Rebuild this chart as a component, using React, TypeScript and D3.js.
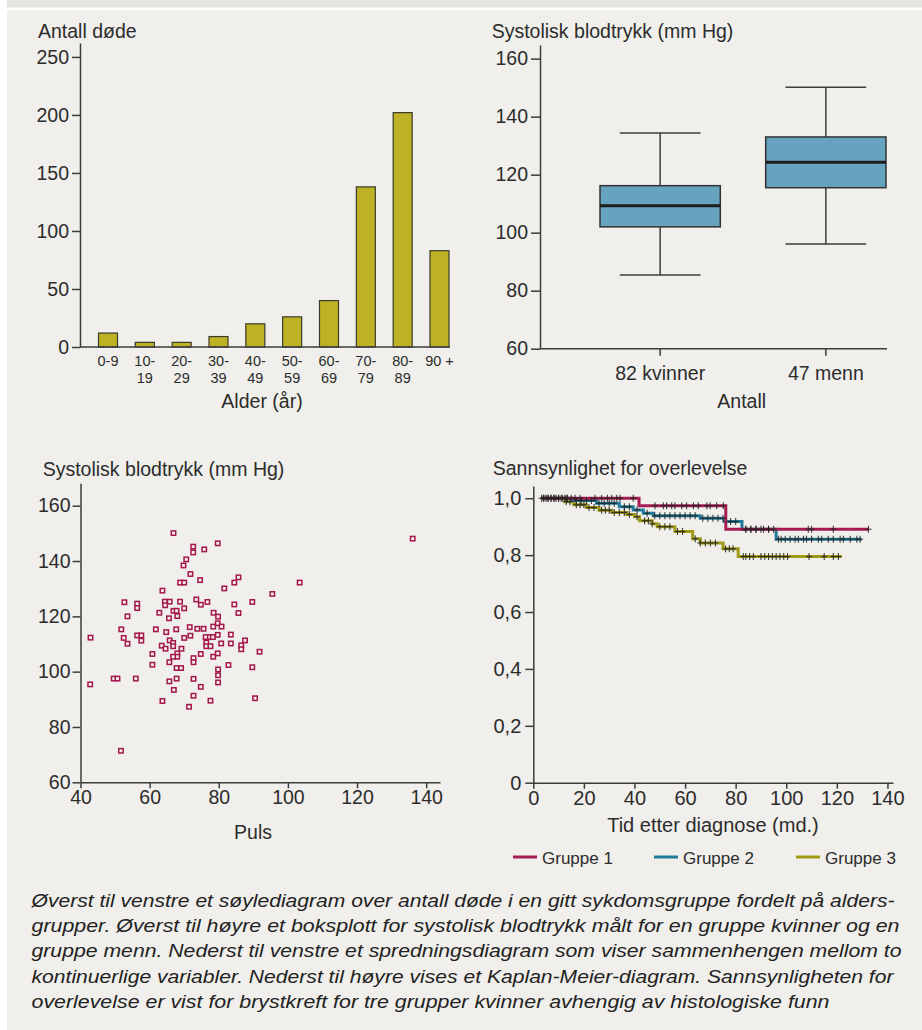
import React, { useEffect, useRef } from "react";
import * as d3 from "d3";

// ---- data ----
const ageGroups = ["0-9", "10-19", "20-29", "30-39", "40-49", "50-59", "60-69", "70-79", "80-89", "90 +"];
const deaths = [12, 4, 4, 9, 20, 26, 40, 138, 202, 83];
const deathTicks = [0, 50, 100, 150, 200, 250];

const boxGroups = ["82 kvinner", "47 menn"];
const boxMin = [85.4, 96.1];
const boxQ1 = [102, 115.5];
const boxMedian = [109.3, 124.3];
const boxQ3 = [116.2, 133];
const boxMax = [134.4, 150.1];
const bpTicks = [60, 80, 100, 120, 140, 160];

const pulse = [
  66.9, 79.7, 72.6, 72.6, 75.8, 70.6, 69.8, 71.8, 74.6, 68.8, 70.0, 81.6, 84.5, 85.7, 63.7, 52.7,
  56.4, 56.4, 53.6, 51.8, 52.5, 53.6, 42.9, 42.8, 49.6, 50.7, 56.0, 51.7, 56.4, 57.6, 57.6, 61.8,
  62.8, 60.8, 60.8, 63.5, 64.6, 64.8, 64.4, 65.8, 64.5, 65.6, 66.9, 67.8, 68.0, 68.8, 70.0, 67.7,
  65.8, 66.8, 66.8, 68.0, 68.0, 66.8, 69.2, 70.0, 65.7, 67.8, 69.1, 65.7, 67.8, 67.0, 63.7, 71.4,
  72.7, 72.7, 72.7, 72.7, 71.8, 71.6, 73.8, 75.6, 73.5, 74.8, 76.7, 74.8, 74.8, 77.6, 76.2, 77.4,
  78.3, 76.4, 76.4, 77.6, 78.4, 78.5, 79.8, 79.7, 80.8, 79.7, 78.4, 79.7, 80.7, 79.8, 79.8, 79.8,
  82.8, 84.5, 85.7, 83.5, 83.5, 86.5, 86.5, 87.6, 89.7, 89.7, 90.5, 91.8, 95.5, 103.4, 136.1,
];
const systolic = [
  150.1, 146.4, 145.2, 143.1, 144.2, 140.6, 138.4, 135.3, 133.1, 132.2, 132.2, 130.1, 132.2, 134.1, 129.3, 125.1,
  124.6, 123.0, 120.0, 115.3, 112.2, 110.1, 112.3, 95.4, 97.5, 97.5, 97.5, 71.4, 113.1, 113.1, 111.2, 115.3,
  121.3, 106.4, 102.5, 109.4, 108.3, 114.3, 125.3, 125.3, 124.0, 119.3, 122.0, 122.0, 120.1, 125.3, 122.9, 115.3,
  111.3, 110.4, 109.2, 106.6, 105.4, 105.4, 108.3, 112.2, 103.4, 101.3, 101.3, 96.5, 97.5, 93.4, 89.4, 87.3,
  91.3, 97.4, 104.9, 103.4, 113.0, 116.1, 115.5, 115.5, 126.1, 124.2, 125.2, 106.4, 94.5, 89.5, 112.5, 112.5,
  112.5, 110.5, 109.2, 109.2, 116.3, 121.3, 119.9, 117.5, 116.3, 113.3, 105.4, 106.6, 110.2, 100.8, 98.7, 96.1,
  102.4, 124.3, 121.2, 113.4, 110.2, 109.5, 108.1, 111.3, 125.2, 101.6, 90.4, 107.2, 128.1, 132.2, 148.1,
];
const pulseTicks = [40, 60, 80, 100, 120, 140];

const kmGroups = ["Gruppe 1", "Gruppe 2", "Gruppe 3"];
const g1Times = [3.3, 41.8, 76.1];
const g1Surv = [1, 0.974, 0.891];
const g1End = 132.5;
const g1Censor = [3.3, 4.2, 5, 6, 7, 8, 9, 10, 11, 12.5, 13.5, 15, 16.5, 18.5, 24.4, 27, 29.3, 31, 33, 34.3, 39.5,
  48.1, 51.4, 52.7, 54.7, 56, 58.7, 60.6, 63.3, 65.2, 68.6, 69.9, 72.5, 75.1, 84, 86, 88, 90, 93, 95,
  108.7, 110, 118.6, 132.5];
const g2Times = [3, 15, 25, 34, 39.5, 43.5, 47.5, 66, 75.5, 82.5, 96];
const g2Surv = [1, 0.992, 0.982, 0.97, 0.959, 0.947, 0.938, 0.93, 0.918, 0.891, 0.856];
const g2End = 129.8;
const g2Censor = [4, 5.5, 7, 8.5, 10, 11.5, 13, 17, 19, 21, 23, 26, 28, 30, 32, 36, 38, 41, 45, 48, 50, 52, 54, 56,
  58, 60, 62, 64, 67, 69, 71, 73, 75, 78, 80, 84, 86, 88, 91, 93, 96.9, 98, 99.6, 101.5, 103.5, 104.8,
  106.8, 108, 110, 112.7, 114, 116.6, 118.6, 121.3, 122.6, 125.3, 127.9, 129.2];
const g3Times = [3, 12.5, 16, 21, 26, 31, 37, 40, 42, 47, 49, 56, 63, 66, 75, 81];
const g3Surv = [1, 0.988, 0.977, 0.967, 0.958, 0.95, 0.943, 0.935, 0.921, 0.91, 0.9, 0.883, 0.858, 0.843, 0.822, 0.795];
const g3End = 122;
const g3Censor = [13, 14.5, 17, 18.5, 20, 22, 24, 27, 28.5, 30, 32, 34, 36, 38, 41, 44, 45.5, 47, 50, 52, 54, 57, 59,
  64, 66, 68, 70, 72, 76, 77.5, 79, 83, 84, 85.5, 87, 90, 91.5, 93, 94.5, 96, 97.5, 99, 100.5, 109, 115,
  118.6, 120.6];
const survTicks = [0, 0.2, 0.4, 0.6, 0.8, 1.0];
const timeTicks = [0, 20, 40, 60, 80, 100, 120, 140];

const captionLines = [
  "Øverst til venstre et søylediagram over antall døde i en gitt sykdomsgruppe fordelt på alders-",
  "grupper. Øverst til høyre et boksplott for systolisk blodtrykk målt for en gruppe kvinner og en",
  "gruppe menn. Nederst til venstre et spredningsdiagram som viser sammenhengen mellom to",
  "kontinuerlige variabler. Nederst til høyre vises et Kaplan-Meier-diagram. Sannsynligheten for",
  "overlevelse er vist for brystkreft for tre grupper kvinner avhengig av histologiske funn",
];
// measured line widths of the caption in the source figure
const captionWidths = [863, 868, 870, 862, 798];

const FONT = "'Liberation Sans', Arial, Helvetica, sans-serif";
const INK = "#2c2c2c";
const AXIS = "#3c3c3c";
const PANEL = "#f0efeb";
const kmColors = ["#a61c52", "#1f7c9b", "#a09a16"];

function styleAxis(g: any, size = 19.5) {
  g.attr("font-family", FONT).attr("font-size", size);
  g.select(".domain").attr("stroke", AXIS).attr("stroke-width", 1.5);
  g.selectAll(".tick line").attr("stroke", AXIS).attr("stroke-width", 1.5);
  g.selectAll(".tick text").attr("fill", INK);
}

function label(svg: any, text: string, x: number, y: number, anchor = "start", size = 19.5) {
  svg.append("text")
    .attr("x", x)
    .attr("y", y)
    .attr("text-anchor", anchor)
    .attr("font-family", FONT)
    .attr("font-size", size)
    .attr("fill", INK)
    .text(text);
}

function drawBars(svg: any) {
  const x = d3.scaleBand().domain(ageGroups).range([98.5, 449]).paddingInner(0.484);
  const y = d3.scaleLinear().domain([0, 262]).range([347, 43]);

  svg.append("g")
    .selectAll("rect")
    .data(deaths)
    .join("rect")
    .attr("x", (d: number, i: number) => x(ageGroups[i]))
    .attr("y", (d: number) => y(d))
    .attr("width", x.bandwidth())
    .attr("height", (d: number) => y(0) - y(d))
    .attr("fill", "#bcb224")
    .attr("stroke", "#3a3a2a")
    .attr("stroke-width", 1.2);

  const ya = svg.append("g")
    .attr("transform", "translate(80,0)")
    .call(d3.axisLeft(y).tickValues(deathTicks).tickSize(8).tickSizeOuter(0).tickPadding(3));
  styleAxis(ya);

  svg.append("line")
    .attr("x1", 80).attr("x2", 450)
    .attr("y1", y(0)).attr("y2", y(0))
    .attr("stroke", AXIS).attr("stroke-width", 1.5);

  const xl = svg.append("g");
  ageGroups.forEach(g => {
    const parts = g.length > 4 ? g.split(/(?<=-)/) : [g];
    const t = xl.append("text")
      .attr("text-anchor", "middle")
      .attr("font-family", FONT)
      .attr("font-size", 14.5)
      .attr("fill", INK);
    parts.forEach((p, j) => {
      t.append("tspan")
        .attr("x", (x(g) as number) + x.bandwidth() / 2)
        .attr("y", 365.5 + j * 17.7)
        .text(p);
    });
  });

  label(svg, "Antall døde", 38, 37.5);
  label(svg, "Alder (år)", 262, 408, "middle");
}

function drawBoxes(svg: any) {
  const x = d3.scaleBand().domain(boxGroups).range([600, 886]).paddingInner(0.274);
  const y = d3.scaleLinear().domain([60, 164.7]).range([348.7, 45]);
  const bw = x.bandwidth();
  const cap = bw * 0.67;

  const ya = svg.append("g")
    .attr("transform", "translate(540,0)")
    .call(d3.axisLeft(y).tickValues(bpTicks).tickSize(9).tickSizeOuter(0).tickPadding(3));
  styleAxis(ya);

  svg.append("line")
    .attr("x1", 540).attr("x2", 887)
    .attr("y1", y(60)).attr("y2", y(60))
    .attr("stroke", AXIS).attr("stroke-width", 1.5);

  const xa = svg.append("g")
    .attr("transform", `translate(0,${y(60)})`)
    .call(d3.axisBottom(x).tickSize(7).tickSizeOuter(0).tickPadding(10));
  styleAxis(xa);
  xa.select(".domain").remove();

  const g = svg.append("g").selectAll("g").data(boxGroups).join("g");
  g.each(function (this: any, name: string, i: number) {
    const s = d3.select(this);
    const cx = (x(name) as number) + bw / 2;
    s.append("line").attr("x1", cx).attr("x2", cx).attr("y1", y(boxMax[i])).attr("y2", y(boxQ3[i]));
    s.append("line").attr("x1", cx).attr("x2", cx).attr("y1", y(boxQ1[i])).attr("y2", y(boxMin[i]));
    s.append("line").attr("x1", cx - cap / 2).attr("x2", cx + cap / 2).attr("y1", y(boxMax[i])).attr("y2", y(boxMax[i]));
    s.append("line").attr("x1", cx - cap / 2).attr("x2", cx + cap / 2).attr("y1", y(boxMin[i])).attr("y2", y(boxMin[i]));
    s.selectAll("line").attr("stroke", AXIS).attr("stroke-width", 1.5);
    s.append("rect")
      .attr("x", x(name))
      .attr("y", y(boxQ3[i]))
      .attr("width", bw)
      .attr("height", y(boxQ1[i]) - y(boxQ3[i]))
      .attr("fill", "#66a3bf")
      .attr("stroke", "#333")
      .attr("stroke-width", 1.5);
    s.append("line")
      .attr("x1", x(name)).attr("x2", (x(name) as number) + bw)
      .attr("y1", y(boxMedian[i])).attr("y2", y(boxMedian[i]))
      .attr("stroke", "#1d1d1d").attr("stroke-width", 3);
  });

  label(svg, "Systolisk blodtrykk (mm Hg)", 491.7, 37.5);
  label(svg, "Antall", 741.7, 407.7, "middle");
}

function drawScatter(svg: any) {
  const x = d3.scaleLinear().domain([40, 144]).range([80.5, 440]);
  const y = d3.scaleLinear().domain([60, 168.1]).range([782.3, 483.3]);

  const ya = svg.append("g")
    .attr("transform", "translate(80.5,0)")
    .call(d3.axisLeft(y).tickValues(bpTicks).tickSize(8).tickSizeOuter(0).tickPadding(2));
  styleAxis(ya);

  const xa = svg.append("g")
    .attr("transform", `translate(0,${y(60)})`)
    .call(d3.axisBottom(x).tickValues(pulseTicks).tickSize(6).tickSizeOuter(0).tickPadding(2));
  styleAxis(xa);

  svg.append("g")
    .selectAll("rect")
    .data(pulse)
    .join("rect")
    .attr("x", (d: number) => x(d) - 2.2)
    .attr("y", (d: number, i: number) => y(systolic[i]) - 2.2)
    .attr("width", 4.4)
    .attr("height", 4.4)
    .attr("fill", PANEL)
    .attr("stroke", "#a5164c")
    .attr("stroke-width", 1.5);

  label(svg, "Systolisk blodtrykk (mm Hg)", 42.7, 476);
  label(svg, "Puls", 253, 839.3, "middle");
}

function stepAt(times: number[], surv: number[], t: number) {
  const i = d3.bisectRight(times, t) - 1;
  return surv[Math.max(0, i)];
}

function drawSurvival(svg: any) {
  const x = d3.scaleLinear().domain([0, 142.2]).range([533.3, 893]);
  const y = d3.scaleLinear().domain([0, 1.043]).range([782.7, 486]);
  const fmt = (d: number) => (d === 0 ? "0" : d.toFixed(1).replace(".", ","));

  const ya = svg.append("g")
    .attr("transform", "translate(533.3,0)")
    .call(d3.axisLeft(y).tickValues(survTicks).tickFormat(fmt as any).tickSize(8).tickSizeOuter(0).tickPadding(4));
  styleAxis(ya, 20);

  const xa = svg.append("g")
    .attr("transform", `translate(0,${y(0)})`)
    .call(d3.axisBottom(x).tickValues(timeTicks).tickSize(6).tickSizeOuter(0).tickPadding(2));
  styleAxis(xa, 20);

  const series = [
    { times: g1Times, surv: g1Surv, end: g1End, censor: g1Censor },
    { times: g2Times, surv: g2Surv, end: g2End, censor: g2Censor },
    { times: g3Times, surv: g3Surv, end: g3End, censor: g3Censor },
  ];

  const line = d3.line<[number, number]>()
    .x(d => x(d[0]))
    .y(d => y(d[1]))
    .curve(d3.curveStepAfter);

  // group 3 first so group 1 sits on top
  [2, 1, 0].forEach(k => {
    const s = series[k];
    const pts: [number, number][] = s.times.map((t, i) => [t, s.surv[i]]);
    pts.push([s.end, s.surv[s.surv.length - 1]]);
    svg.append("path")
      .attr("d", line(pts))
      .attr("fill", "none")
      .attr("stroke", kmColors[k])
      .attr("stroke-width", 3);
  });

  [2, 1, 0].forEach(k => {
    const s = series[k];
    const cg = svg.append("g").attr("stroke", "#222").attr("stroke-width", 1.1).attr("opacity", 0.85);
    s.censor.forEach(t => {
      const cx = x(t);
      const cy = y(stepAt(s.times, s.surv, t));
      cg.append("line").attr("x1", cx).attr("x2", cx).attr("y1", cy - 3.5).attr("y2", cy + 3.5);
      cg.append("line").attr("x1", cx - 3).attr("x2", cx + 3).attr("y1", cy).attr("y2", cy);
    });
  });

  label(svg, "Sannsynlighet for overlevelse", 492.7, 475);
  label(svg, "Tid etter diagnose (md.)", 713, 831.7, "middle", 20);

  const legendX = [513, 654, 796];
  kmGroups.forEach((name, k) => {
    svg.append("line")
      .attr("x1", legendX[k]).attr("x2", legendX[k] + 24)
      .attr("y1", 857).attr("y2", 857)
      .attr("stroke", kmColors[k]).attr("stroke-width", 3);
    label(svg, name, legendX[k] + 29, 864, "start", 17);
  });
}

function drawCaption(svg: any) {
  const g = svg.append("g")
    .attr("font-family", FONT)
    .attr("font-size", 19)
    .attr("font-style", "italic")
    .attr("fill", "#222");
  captionLines.forEach((line, i) => {
    g.append("text")
      .attr("x", 31.5)
      .attr("y", 907 + i * 25.2)
      .attr("textLength", captionWidths[i])
      .attr("lengthAdjust", "spacingAndGlyphs")
      .text(line);
  });
}

export default function App() {
  const ref = useRef<SVGSVGElement>(null);

  useEffect(() => {
    const svg = d3.select(ref.current);
    svg.selectAll("*").remove();

    svg.append("rect").attr("x", 0).attr("y", 0).attr("width", 922).attr("height", 1030).attr("fill", "#ffffff");
    svg.append("rect").attr("x", 7).attr("y", 0).attr("width", 915).attr("height", 7.5).attr("fill", "#e5e3de");
    svg.append("rect").attr("x", 7).attr("y", 10).attr("width", 915).attr("height", 1020).attr("fill", PANEL);

    drawBars(svg);
    drawBoxes(svg);
    drawScatter(svg);
    drawSurvival(svg);
    drawCaption(svg);
  }, []);

  return (
    <svg
      ref={ref}
      width={922}
      height={1030}
      style={{ position: "absolute", left: 0, top: 0, display: "block" }}
    />
  );
}
